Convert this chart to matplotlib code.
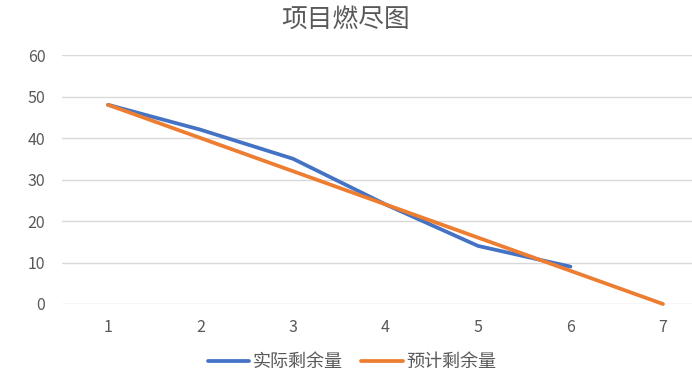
import matplotlib.pyplot as plt

plt.rcParams['font.family'] = ['Noto Sans CJK SC', 'DejaVu Sans']

days = [1, 2, 3, 4, 5, 6, 7]
actual = [48, 42, 35, 24, 14, 9]
planned = [48, 40, 32, 24, 16, 8, 0]

fig = plt.figure(figsize=(6.92, 3.77), dpi=100)
ax = fig.add_axes([62 / 692, 73 / 377, 630 / 692, 249 / 377])

ax.plot(days[:len(actual)], actual, color="#4472C4", linewidth=2.7,
        label="实际剩余量", solid_capstyle="round", clip_on=False, zorder=3)
ax.plot(days, planned, color="#ED7D31", linewidth=2.7,
        label="预计剩余量", solid_capstyle="round", clip_on=False, zorder=4)

ax.set_xlim(1 - 46 / 92.5, 7 + 29 / 92.5)
ax.set_ylim(0, 60)
ax.set_yticks(range(0, 61, 10))
ax.set_xticks(days)

ax.grid(axis="y", color="#D9D9D9", linewidth=1)
ax.set_axisbelow(True)
for s in ax.spines.values():
    s.set_visible(False)
ax.tick_params(length=0, colors="#595959", labelsize=11.5)
ax.tick_params(axis="y", pad=12)
ax.tick_params(axis="x", pad=11)

fig.text(0.5, 1 - 20 / 377, "项目燃尽图", ha="center", va="center",
         fontsize=18.5, color="#595959")

fig.legend(loc="center", bbox_to_anchor=(352 / 692, 1 - 362 / 377), ncol=2,
           frameon=False, fontsize=13, labelcolor="#595959",
           handlelength=2.3, handletextpad=0.2, columnspacing=1.0)

fig.savefig("out.png", dpi=100)
